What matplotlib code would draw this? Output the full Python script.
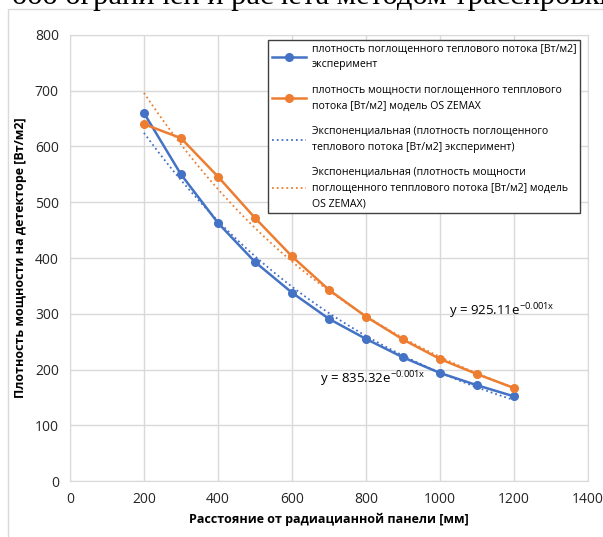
import numpy as np
import matplotlib.pyplot as plt
from matplotlib.patches import Rectangle

plt.rcParams['font.family'] = ['Open Sans', 'DejaVu Sans']
plt.rcParams['mathtext.fontset'] = 'custom'
plt.rcParams['mathtext.rm'] = 'Open Sans'
plt.rcParams['mathtext.it'] = 'Open Sans'

# Data
x = [200, 300, 400, 500, 600, 700, 800, 900, 1000, 1100, 1200]
exp_vals = [660, 550, 463, 393, 338, 291, 255, 222, 194, 172, 152]
model_vals = [640, 615, 546, 472, 403, 343, 295, 254, 219, 192, 167]

label_exp = 'плотность поглощенного теплового потока [Вт/м2]\nэксперимент'
label_model = 'плотность мощности поглощенного тепплового\nпотока [Вт/м2] модель OS ZEMAX'
label_exp_fit = 'Экспоненциальная (плотность поглощенного\nтеплового потока [Вт/м2] эксперимент)'
label_model_fit = 'Экспоненциальная (плотность мощности\nпоглощенного тепплового потока [Вт/м2] модель\nOS ZEMAX)'
eq_exp = 'y = 835.32e$^{-0.001x}$'
eq_model = 'y = 925.11e$^{-0.001x}$'

blue = '#4472C4'
orange = '#ED7D31'

fig = plt.figure(figsize=(6.03, 5.37), dpi=100)
ax = fig.add_axes([0.116, 0.104, 0.859, 0.831])

# cut-off text line from the page above the chart
fig.text(12 / 603, 1 - 4 / 537, 'ооо ограничен и расчета методом трассировки',
         family=['Liberation Serif', 'DejaVu Serif'], fontsize=22, va='baseline')
fig.add_artist(Rectangle((8 / 603, -0.1), 1.0, (537 - 9) / 537 + 0.1,
                         transform=fig.transFigure, fill=False,
                         ec='#d9d9d9', lw=1))

ax.plot(x, exp_vals, '-o', color=blue, lw=1.8, ms=5.5, label=label_exp, zorder=4)
ax.plot(x, model_vals, '-o', color=orange, lw=1.8, ms=5.5, label=label_model, zorder=4)

# exponential trendlines (least squares on ln y, as Excel does)
xs = np.array(x, dtype=float)
b1, a1 = np.polyfit(xs, np.log(exp_vals), 1)
b2, a2 = np.polyfit(xs, np.log(model_vals), 1)
xf = np.linspace(xs[0], xs[-1], 100)
ax.plot(xf, np.exp(a1) * np.exp(b1 * xf), ':', color=blue, lw=1.3,
        label=label_exp_fit, zorder=3)
ax.plot(xf, np.exp(a2) * np.exp(b2 * xf), ':', color=orange, lw=1.3,
        label=label_model_fit, zorder=3)

ax.text(1025, 305, eq_model, fontsize=9.5, va='center')
ax.text(675, 182, eq_exp, fontsize=9.5, va='center')

ax.set_xlim(0, 1400)
ax.set_ylim(0, 800)
ax.set_xticks(range(0, 1401, 200))
ax.set_yticks(range(0, 801, 100))
ax.grid(True, color='#d9d9d9', lw=1)
ax.set_axisbelow(True)
for s in ax.spines.values():
    s.set_color('#d9d9d9')
ax.tick_params(length=0, labelsize=10, labelcolor='#262626', pad=8)

ax.set_xlabel('Расстояние от радиацианной панели [мм]', fontsize=9,
              fontweight='bold', labelpad=4)
ax.set_ylabel('Плотность мощности на детекторе [Вт/м2]', fontsize=9,
              fontweight='bold', labelpad=6)

leg = ax.legend(loc='upper right', bbox_to_anchor=(580 / 603, (537 - 40) / 537),
                bbox_transform=fig.transFigure, fontsize=7.6, frameon=True,
                fancybox=False, edgecolor='#404040', framealpha=1,
                labelspacing=1.35, handlelength=3.3, handletextpad=0.5,
                borderpad=0.35, borderaxespad=0)
leg.get_frame().set_linewidth(1.0)
for t in leg.get_texts():
    t.set_linespacing(1.6)

fig.savefig('out.png', dpi=100)
